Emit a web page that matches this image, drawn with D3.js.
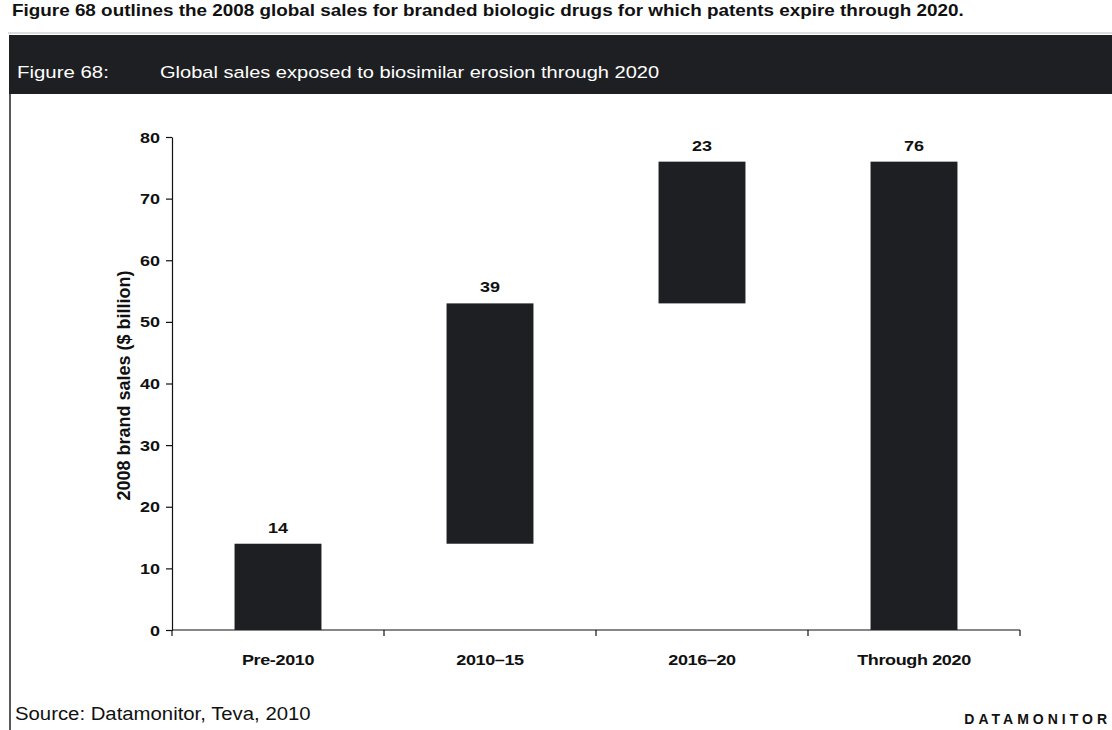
<!DOCTYPE html>
<html>
<head>
<meta charset="utf-8">
<script src="https://cdn.jsdelivr.net/npm/d3@7"></script>
<style>
  body { margin: 0; background: #fff; }
  svg { display: block; }
</style>
</head>
<body>
<div id="chart"></div>
<script>
// waterfall data ($ billion, 2008 brand sales)
const categories = ['Pre-2010', '2010\u201315', '2016\u201320', 'Through 2020'];
const values = [14, 39, 23, 76];
const isTotal = [false, false, false, true];
const yTicks = [0, 10, 20, 30, 40, 50, 60, 70, 80];

const width = 1112;
const height = 730;
const font = 'Liberation Sans, Arial, sans-serif';
const dark = '#1e1f22';
const sx = 1.2; // the scan is a bit wider than tall, so stretch text horizontally

const svg = d3.select('#chart')
  .append('svg')
  .attr('width', width)
  .attr('height', height);

// place a text with the horizontal stretch
function put(sel, x, y, s = sx) {
  return sel.attr('transform', `translate(${x},${y}) scale(${s},1)`);
}

// cut-off line of body text at the top
svg.append('text')
  .call(put, 12, 16, 1.18)
  .style('font-family', font)
  .style('font-weight', '700')
  .style('font-size', '16px')
  .style('fill', '#111')
  .text('Figure 68 outlines the 2008 global sales for branded biologic drugs for which patents expire through 2020.');

// faint rule above header
svg.append('line')
  .attr('x1', 8).attr('x2', width)
  .attr('y1', 33).attr('y2', 33)
  .style('stroke', '#bbb')
  .style('stroke-width', 1);

// header band
svg.append('rect')
  .attr('x', 9)
  .attr('y', 35)
  .attr('width', width - 9)
  .attr('height', 59)
  .style('fill', dark);

svg.append('text')
  .call(put, 17, 78)
  .style('font-family', font)
  .style('font-size', '17px')
  .style('fill', '#fff')
  .text('Figure 68:');

svg.append('text')
  .call(put, 160, 78, 1.18)
  .style('font-family', font)
  .style('font-size', '17px')
  .style('fill', '#fff')
  .text('Global sales exposed to biosimilar erosion through 2020');

// left frame line
svg.append('line')
  .attr('x1', 10).attr('x2', 10)
  .attr('y1', 94).attr('y2', height)
  .style('stroke', '#222')
  .style('stroke-width', 1.5);

// build waterfall segments
let running = 0;
const segs = categories.map((c, i) => {
  let lo, hi;
  if (isTotal[i]) { lo = 0; hi = values[i]; }
  else { lo = running; hi = running + values[i]; running = hi; }
  return { cat: c, value: values[i], lo, hi };
});

const plot = { left: 172, right: 1020, top: 137, bottom: 630 };

const x = d3.scaleBand()
  .domain(categories)
  .range([plot.left, plot.right])
  .paddingInner(0.59)
  .paddingOuter(0.295);

const y = d3.scaleLinear()
  .domain([0, 80])
  .range([plot.bottom, plot.top]);

// y axis
const yAxis = svg.append('g')
  .attr('transform', `translate(${plot.left},0)`)
  .call(d3.axisLeft(y).tickValues(yTicks).tickSize(6).tickSizeOuter(0));
yAxis.select('.domain').style('stroke', '#111').style('stroke-width', 1.2);
yAxis.selectAll('.tick line').style('stroke', '#111').style('stroke-width', 1.2);
yAxis.selectAll('.tick text')
  .attr('x', null)
  .attr('dy', null)
  .call(put, -12, 5)
  .style('font-family', font)
  .style('font-weight', '700')
  .style('font-size', '15px')
  .style('fill', '#111');

// x axis with ticks at band boundaries
const xAxisG = svg.append('g')
  .attr('transform', `translate(0,${plot.bottom})`);
xAxisG.append('line')
  .attr('x1', plot.left).attr('x2', plot.right)
  .attr('y1', 0).attr('y2', 0)
  .style('stroke', '#111').style('stroke-width', 1.2);
const step = x.step();
const bounds = d3.range(categories.length + 1).map(i => plot.left + i * step);
xAxisG.selectAll('.xt')
  .data(bounds)
  .join('line')
  .attr('x1', d => d).attr('x2', d => d)
  .attr('y1', 0).attr('y2', 6)
  .style('stroke', '#111').style('stroke-width', 1.2);
xAxisG.selectAll('.xl')
  .data(categories)
  .join('text')
  .each(function(d) { put(d3.select(this), x(d) + x.bandwidth() / 2, 35); })
  .attr('text-anchor', 'middle')
  .style('font-family', font)
  .style('font-weight', '700')
  .style('font-size', '15px')
  .style('letter-spacing', '-0.3px')
  .style('fill', '#111')
  .text(d => d);

// bars
svg.selectAll('.bar')
  .data(segs)
  .join('rect')
  .attr('x', d => x(d.cat))
  .attr('width', x.bandwidth())
  .attr('y', d => y(d.hi))
  .attr('height', d => y(d.lo) - y(d.hi))
  .style('fill', dark);

// value labels
svg.selectAll('.val')
  .data(segs)
  .join('text')
  .each(function(d) { put(d3.select(this), x(d.cat) + x.bandwidth() / 2, y(d.hi) - 11); })
  .attr('text-anchor', 'middle')
  .style('font-family', font)
  .style('font-weight', '700')
  .style('font-size', '15px')
  .style('fill', '#111')
  .text(d => d.value);

// y axis title
svg.append('text')
  .attr('transform', `translate(130,${(plot.top + plot.bottom) / 2 + 2}) rotate(-90)`)
  .attr('text-anchor', 'middle')
  .style('font-family', font)
  .style('font-weight', '700')
  .style('font-size', '18px')
  .style('fill', '#111')
  .text('2008 brand sales ($ billion)');

// footer
svg.append('text')
  .call(put, 15, 720, 1.13)
  .style('font-family', font)
  .style('font-size', '18px')
  .style('fill', '#111')
  .text('Source: Datamonitor, Teva, 2010');

svg.append('text')
  .attr('x', width - 1)
  .attr('y', 724)
  .attr('text-anchor', 'end')
  .style('font-family', font)
  .style('font-weight', '700')
  .style('font-size', '14px')
  .style('letter-spacing', '4px')
  .style('fill', '#111')
  .text('DATAMONITOR');
</script>
</body>
</html>
